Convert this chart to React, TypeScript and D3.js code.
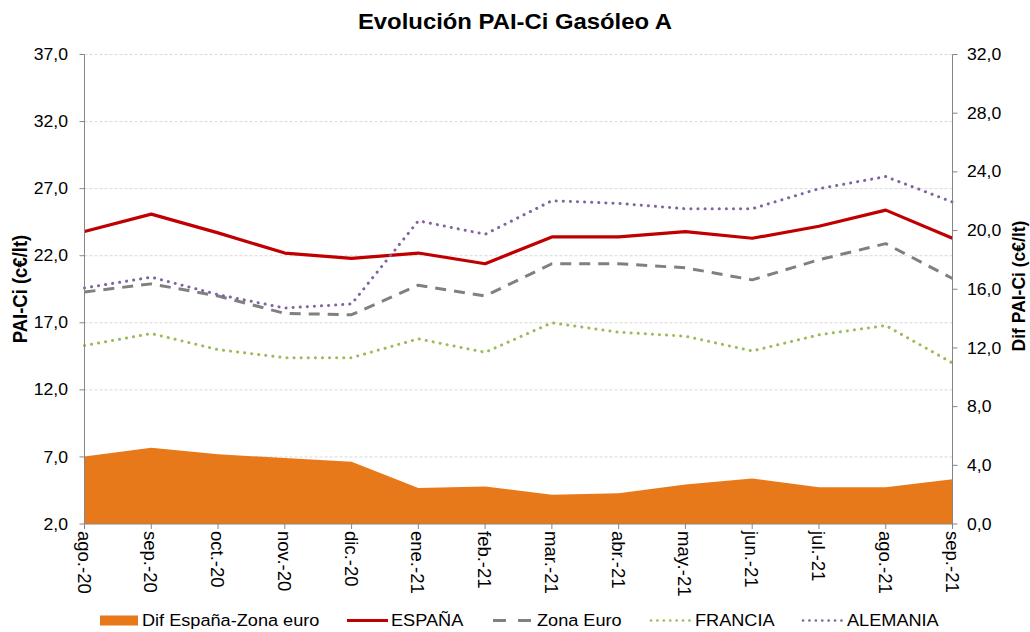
import React from 'react';
import * as d3 from 'd3';

const months = ['ago.-20', 'sep.-20', 'oct.-20', 'nov.-20', 'dic.-20', 'ene.-21', 'feb.-21', 'mar.-21', 'abr.-21', 'may.-21', 'jun.-21', 'jul.-21', 'ago.-21', 'sep.-21'];
const espana = [23.8, 25.1, 23.7, 22.2, 21.8, 22.2, 21.4, 23.4, 23.4, 23.8, 23.3, 24.2, 25.4, 23.3];
const zonaEuro = [19.3, 19.9, 19.0, 17.7, 17.6, 19.8, 19.0, 21.4, 21.4, 21.1, 20.2, 21.7, 22.9, 20.3];
const francia = [15.3, 16.2, 15.0, 14.4, 14.4, 15.8, 14.8, 17.0, 16.3, 16.0, 14.9, 16.1, 16.8, 14.0];
const alemania = [19.6, 20.4, 19.1, 18.1, 18.4, 24.6, 23.6, 26.1, 25.9, 25.5, 25.5, 27.0, 27.9, 26.0];
const dif = [4.6, 5.2, 4.75, 4.5, 4.25, 2.45, 2.55, 2.0, 2.1, 2.7, 3.1, 2.5, 2.5, 3.05];
const leftTicks = [2, 7, 12, 17, 22, 27, 32, 37];
const rightTicks = [0, 4, 8, 12, 16, 20, 24, 28, 32];

const W = 1030;
const H = 632;
const left = 84.5;
const right = 952.5;
const top = 54.5;
const bottom = 524;
const SX = 1.1; // the original is a bit stretched sideways
const font = '"Liberation Sans", Arial, sans-serif';
const fmt = (v: number) => v.toFixed(1).replace('.', ',');

const orange = '#E8791A';

const App: React.FC = () => {
  const x = d3.scalePoint<string>().domain(months).range([left, right]);
  const yL = d3.scaleLinear().domain([2, 37]).range([bottom, top]);
  const yR = d3.scaleLinear().domain([0, 32]).range([bottom, top]);

  const lineL = (vals: number[]) =>
    d3.line<number>().x((_, i) => x(months[i])!).y(d => yL(d))(vals) || '';
  const area = d3.area<number>()
    .x((_, i) => x(months[i])!)
    .y0(yR(0))
    .y1(d => yR(d))(dif) || '';

  const series = [
    { vals: espana, color: '#C00000', width: 3.2, dash: undefined, cap: 'butt' },
    { vals: zonaEuro, color: '#808080', width: 3, dash: '11 8', cap: 'butt' },
    { vals: francia, color: '#9BBB59', width: 3, dash: '0.1 7', cap: 'round' },
    { vals: alemania, color: '#8064A2', width: 3, dash: '0.1 7', cap: 'round' },
  ];

  const legend = [
    { label: 'Dif España-Zona euro', x: 100, tx: 142, kind: 'rect', color: orange },
    { label: 'ESPAÑA', x: 347, tx: 391, kind: 'line', color: '#C00000', dash: undefined, width: 3.2, cap: 'butt' },
    { label: 'Zona Euro', x: 493, tx: 537, kind: 'line', color: '#808080', dash: '13 12', width: 3, cap: 'butt' },
    { label: 'FRANCIA', x: 651, tx: 695, kind: 'line', color: '#9BBB59', dash: '0.1 6.3', width: 2.6, cap: 'round' },
    { label: 'ALEMANIA', x: 803, tx: 847, kind: 'line', color: '#8064A2', dash: '0.1 6.3', width: 2.6, cap: 'round' },
  ];

  return (
    <svg width={W} height={H} style={{ position: 'absolute', left: 0, top: 0, background: '#fff' }} fontFamily={font}>
      <text transform={`translate(515,28.5) scale(1.085,1)`} textAnchor="middle" fontSize={22} fontWeight="bold">Evolución PAI-Ci Gasóleo A</text>

      {/* gridlines */}
      {leftTicks.filter(t => t !== 2).map(t => (
        <line key={t} x1={left} x2={right} y1={yL(t)} y2={yL(t)} stroke="#D9D9D9" strokeDasharray="3 2" />
      ))}

      {/* area, right axis */}
      <path d={area} fill={orange} />

      {series.map((s, i) => (
        <path key={i} d={lineL(s.vals)} fill="none" stroke={s.color} strokeWidth={s.width}
          strokeDasharray={s.dash} strokeLinecap={s.cap as any} strokeLinejoin="round" />
      ))}

      {/* left axis */}
      <line x1={left} x2={left} y1={top} y2={bottom} stroke="#868686" />
      {leftTicks.map(t => (
        <g key={t}>
          <line x1={left - 5} x2={left} y1={yL(t)} y2={yL(t)} stroke="#868686" />
          <text transform={`translate(68,${yL(t)}) scale(${SX},1)`} dy="0.35em" textAnchor="end" fontSize={16}>{fmt(t)}</text>
        </g>
      ))}
      <text transform={`translate(27,289) scale(${SX},1) rotate(-90)`} textAnchor="middle" fontSize={18.5} fontWeight="bold">PAI-Ci (c€/lt)</text>

      {/* right axis */}
      <line x1={right} x2={right} y1={top} y2={bottom} stroke="#868686" />
      {rightTicks.map(t => (
        <g key={t}>
          <line x1={right} x2={right + 5} y1={yR(t)} y2={yR(t)} stroke="#868686" />
          <text transform={`translate(967,${yR(t)}) scale(${SX},1)`} dy="0.35em" textAnchor="start" fontSize={16}>{fmt(t)}</text>
        </g>
      ))}
      <text transform={`translate(1025,286) scale(${SX},1) rotate(-90)`} textAnchor="middle" fontSize={17.5} fontWeight="bold">Dif PAI-Ci (c€/lt)</text>

      {/* bottom axis */}
      <line x1={left} x2={right} y1={bottom} y2={bottom} stroke="#868686" />
      {months.map(m => (
        <g key={m}>
          <line x1={x(m)!} x2={x(m)!} y1={bottom} y2={bottom + 5} stroke="#868686" />
          <text transform={`translate(${x(m)! - 7},531) rotate(90)`} textAnchor="start" fontSize={18.5}>{m}</text>
        </g>
      ))}

      {/* legend */}
      {legend.map(l => (
        <g key={l.label}>
          {l.kind === 'rect'
            ? <rect x={l.x} y={615.5} width={38} height={10} fill={l.color} />
            : <line x1={l.x} x2={l.x + 41} y1={620.5} y2={620.5} stroke={l.color} strokeWidth={l.width}
                strokeDasharray={l.dash} strokeLinecap={l.cap as any} />}
          <text transform={`translate(${l.tx},620.5) scale(${SX},1)`} dy="0.35em" fontSize={16.5}>{l.label}</text>
        </g>
      ))}
    </svg>
  );
};

export default App;
